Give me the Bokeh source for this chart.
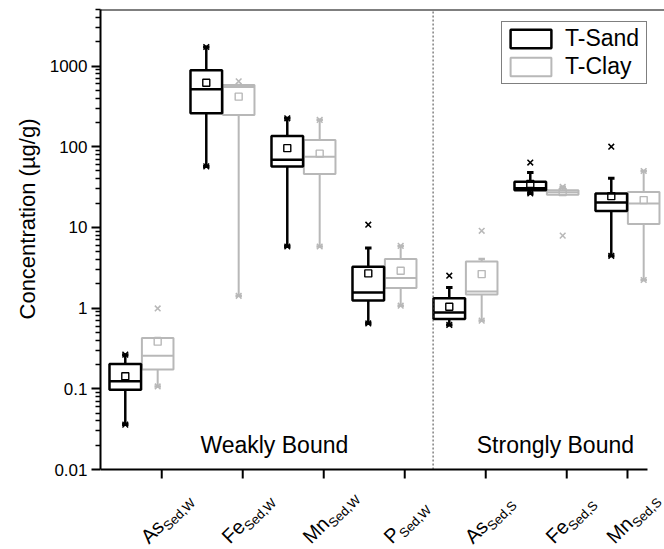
import math
from bokeh.plotting import figure
from bokeh.layouts import column
from bokeh.models import (FixedTicker, Span, Label, Legend, LegendItem,
                          ColumnDataSource, Title, Range1d)
from bokeh.core.properties import value
from bokeh.embed import file_html
from bokeh.resources import INLINE

# ---------------- data ----------------
categories = ["As_Sed,W", "Fe_Sed,W", "Mn_Sed,W", "P_Sed,W", "As_Sed,S", "Fe_Sed,S", "Mn_Sed,S"]
label_main = ["As", "Fe", "Mn", "P", "As", "Fe", "Mn"]
label_sub = ["Sed,W", "Sed,W", "Sed,W", "Sed,W", "Sed,S", "Sed,S", "Sed,S"]
cat_pos = [0, 1, 2, 3, 4, 5, 6]
tick_pos = [0.25, 1.25, 2.25, 3.25, 4.25, 5.25, 6.0]

# T-Sand
sand_lo = [0.036, 57, 5.8, 0.645, 0.618, 26.3, 4.45]
sand_q1 = [0.097, 260, 57, 1.24, 0.733, 28.9, 16.0]
sand_med = [0.124, 515, 69, 1.56, 0.885, 30.6, 20.3]
sand_q3 = [0.203, 885, 136, 3.25, 1.32, 36.7, 26.3]
sand_hi = [0.265, 1720, 225, 5.55, 1.8, 47.8, 40.7]
sand_mean = [0.143, 620, 96, 2.69, 1.04, 34.6, 24.4]
sand_min = [0.036, 57, 5.8, 0.645, 0.618, 26.3, 4.45]
sand_max = [0.265, 1720, 225, 10.8, 2.52, 63.6, 100]

# T-Clay
clay_lo = [0.107, 1.42, 5.8, 1.07, 0.70, 25.3, 2.23]
clay_q1 = [0.174, 247, 46, 1.77, 1.47, 25.3, 11.0]
clay_med = [0.257, 550, 75, 2.36, 1.61, 27.2, 19.8]
clay_q3 = [0.426, 582, 121, 4.06, 3.79, 28.9, 27.5]
clay_hi = [0.426, 582, 215, 5.9, 4.06, 31.8, 50]
clay_mean = [0.384, 417, 82, 2.9, 2.64, 27.5, 21.8]
clay_min = [0.107, 1.42, 5.8, 1.07, 0.70, 7.9, 2.23]
clay_max = [0.99, 646, 215, 5.9, 9.08, 31.8, 50]

y_ticks = [0.01, 0.1, 1, 10, 100, 1000]
y_tick_labels = ["0.01", "0.1", "1", "10", "100", "1000"]
group_names = ["Weakly Bound", "Strongly Bound"]
group_pos = [1.64, 5.11]
divider_pos = 3.6

# ---------------- styling / layout ----------------
FONT = "Liberation Sans"
BLACK = "#000000"
GREY = "#b8b8b8"
BOX_W = 0.39
OFF = 0.2
CAP_W = 0.08
W, H = 664, 549
H_MAIN = 481                  # main figure height; label strip below it
TOP, LEFT = 9, 100            # frame top / left in px
AXIS_PX = 469                 # px position of the x axis line
PX_DEC = 80.7                 # px per decade
Y_AXIS_MIN = 0.01
Y_MAX = Y_AXIS_MIN * 10 ** ((AXIS_PX - TOP) / PX_DEC)
Y_START = Y_AXIS_MIN * 10 ** (-(H_MAIN - AXIS_PX) / PX_DEC)
X_START, X_END = -0.506, 6.457
PX_X = (W - LEFT) / (X_END - X_START)   # px per x unit
X_AXIS_END = 6.247
TICK_LEN = 9

p = figure(width=W, height=H_MAIN, y_axis_type="log",
           x_range=(X_START, X_END), y_range=(Y_START, Y_MAX),
           output_backend="svg", toolbar_location=None,
           min_border_left=LEFT, min_border_right=0,
           min_border_top=TOP, min_border_bottom=0)
p.outline_line_color = None
p.xgrid.visible = False
p.ygrid.visible = False
p.xaxis.visible = False
p.background_fill_color = "white"
p.border_fill_color = "white"


def draw_series(offset, lo, q1, med, q3, hi, mean, mn, mx, color, lw):
    xs = [c + offset for c in cat_pos]
    src = ColumnDataSource(dict(
        x=xs, lo=lo, q1=q1, med=med, q3=q3, hi=hi, mean=mean, mn=mn, mx=mx,
        xl=[x - BOX_W / 2 for x in xs], xr=[x + BOX_W / 2 for x in xs],
        cl=[x - CAP_W / 2 for x in xs], cr=[x + CAP_W / 2 for x in xs]))
    p.segment(x0="x", x1="x", y0="q3", y1="hi", source=src, line_color=color, line_width=lw)
    p.segment(x0="x", x1="x", y0="q1", y1="lo", source=src, line_color=color, line_width=lw)
    p.segment(x0="cl", x1="cr", y0="hi", y1="hi", source=src, line_color=color, line_width=lw + 0.5)
    p.segment(x0="cl", x1="cr", y0="lo", y1="lo", source=src, line_color=color, line_width=lw + 0.5)
    box = p.vbar(x="x", width=BOX_W, top="q3", bottom="q1", source=src,
                 fill_color="white", line_color=color, line_width=lw)
    p.segment(x0="xl", x1="xr", y0="med", y1="med", source=src, line_color=color, line_width=lw)
    p.scatter(x="x", y="mean", source=src, marker="square", size=7,
              fill_color=None, line_color=color, line_width=1.4)
    p.scatter(x="x", y="mn", source=src, marker="x", size=8, line_color=color, line_width=1.5)
    p.scatter(x="x", y="mx", source=src, marker="x", size=8, line_color=color, line_width=1.5)
    return box


clay_box = draw_series(OFF, clay_lo, clay_q1, clay_med, clay_q3, clay_hi,
                       clay_mean, clay_min, clay_max, GREY, 2.0)
sand_box = draw_series(-OFF, sand_lo, sand_q1, sand_med, sand_q3, sand_hi,
                       sand_mean, sand_min, sand_max, BLACK, 2.5)

# divider (dotted) and top spine
p.segment(x0=[divider_pos], x1=[divider_pos], y0=[Y_AXIS_MIN], y1=[Y_MAX],
          line_color="#444444", line_width=1, line_dash="2 2")
p.add_layout(Span(location=Y_MAX, dimension="width", line_color=BLACK, line_width=2))

# bottom axis line and ticks
tick_bottom = Y_AXIS_MIN * 10 ** (-TICK_LEN / PX_DEC)
p.segment(x0=[X_START], x1=[X_AXIS_END], y0=[Y_AXIS_MIN], y1=[Y_AXIS_MIN],
          line_color=BLACK, line_width=2)
p.segment(x0=tick_pos, x1=tick_pos, y0=[Y_AXIS_MIN] * len(tick_pos),
          y1=[tick_bottom] * len(tick_pos), line_color=BLACK, line_width=2)

# y axis
yax = p.yaxis[0]
yax.bounds = (Y_AXIS_MIN, Y_MAX)
yax.ticker = FixedTicker(ticks=y_ticks,
                         minor_ticks=[m * t for t in y_ticks for m in range(2, 10)])
yax.major_label_overrides = {t: l for t, l in zip(y_ticks, y_tick_labels)}
yax.major_label_text_font = FONT
yax.major_label_text_font_size = "17px"
yax.major_label_text_color = BLACK
yax.major_label_standoff = 4
yax.axis_line_width = 2
yax.major_tick_line_width = 2
yax.minor_tick_line_width = 1.5
yax.major_tick_out = TICK_LEN
yax.major_tick_in = 0
yax.minor_tick_out = 5
yax.minor_tick_in = 0

# y axis title (side title so it can be shifted along the axis)
ytitle = Title(text="Concentration (µg/g)", align="right", offset=109,
               text_font=FONT, text_font_size="22px", text_font_style="normal",
               text_color=BLACK, standoff=14)
p.add_layout(ytitle, "left")

# group names
for gp, gname in zip(group_pos, group_names):
    p.add_layout(Label(x=gp, y=Y_AXIS_MIN, y_offset=12, text=gname, text_align="center",
                       text_baseline="bottom", text_font=FONT,
                       text_font_size="23px", text_color=BLACK))

# legend
legend = Legend(items=[LegendItem(label="T-Sand", renderers=[sand_box]),
                       LegendItem(label="T-Clay", renderers=[clay_box])],
                location=(401, H_MAIN - 84), orientation="vertical")
legend.label_text_font = FONT
legend.label_text_font_size = "23px"
legend.label_text_color = BLACK
legend.border_line_color = BLACK
legend.border_line_width = 1
legend.background_fill_color = "white"
legend.background_fill_alpha = 1
legend.padding = 3
legend.spacing = 1
legend.margin = 0
legend.glyph_width = 51
legend.glyph_height = 23
legend.label_height = 23
legend.label_width = 78
legend.label_standoff = 9
p.add_layout(legend)

# ---------------- label strip: rotated category labels with subscripts ----------------
H_STRIP = H - H_MAIN
p2 = figure(width=W, height=H_STRIP, x_range=p.x_range, y_range=Range1d(0, H_STRIP),
            x_axis_type=None, y_axis_type=None,
            output_backend="svg", toolbar_location=None,
            min_border_left=LEFT, min_border_right=0,
            min_border_top=0, min_border_bottom=0)
p2.outline_line_color = None
p2.grid.visible = False

ARIAL_W = {"A": .667, "s": .5, "F": .611, "e": .556, "M": .833, "n": .556,
           "P": .667, "S": .667, "d": .556, ",": .278, "W": .944}
MAIN_SIZE, SUB_SIZE = 20, 13
DESC = 0.212                      # font descent (em): baseline -> bottom of text box
theta = math.radians(45)
base_dx, base_down, drop = -13, 75, 5   # px, measured from tick / below the axis line
s_t, c_t = math.sin(theta), math.cos(theta)
STRIP_AXIS_Y = H - AXIS_PX        # axis line position in strip units (px above strip bottom)


def to_strip(tp, dx, down):
    return tp + dx / PX_X, STRIP_AXIS_Y - down


mx_, my_, sx_, sy_ = [], [], [], []
for tp, mtxt in zip(tick_pos, label_main):
    wm = sum(ARIAL_W.get(ch, .556) for ch in mtxt) * MAIN_SIZE
    dm = DESC * MAIN_SIZE
    ds = DESC * SUB_SIZE
    a, b = to_strip(tp, base_dx + dm * s_t, base_down + dm * c_t)
    mx_.append(a)
    my_.append(b)
    a, b = to_strip(tp, base_dx + wm * c_t + (drop + ds) * s_t,
                    base_down - wm * s_t + (drop + ds) * c_t)
    sx_.append(a)
    sy_.append(b)

main_src = ColumnDataSource(dict(x=mx_, y=my_, text=label_main))
sub_src = ColumnDataSource(dict(x=sx_, y=sy_, text=label_sub))
p2.text(x="x", y="y", text="text", source=main_src, angle=theta,
        text_font=value(FONT), text_font_size=value(f"{MAIN_SIZE}px"))
p2.text(x="x", y="y", text="text", source=sub_src, angle=theta,
        text_font=value(FONT), text_font_size=value(f"{SUB_SIZE}px"))

layout = column(p, p2, spacing=0)
open("out.html", "w").write(file_html(layout, INLINE))
